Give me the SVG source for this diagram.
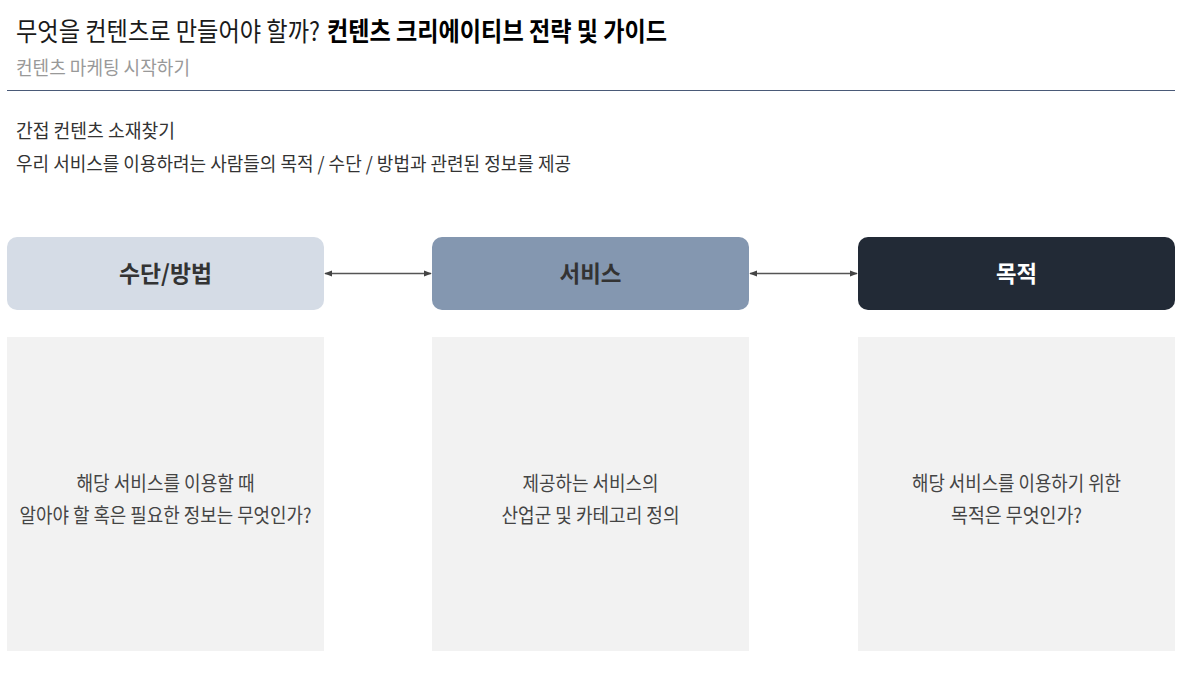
<svg xmlns="http://www.w3.org/2000/svg" width="1204" height="691" viewBox="0 0 1204 691">
<defs>
<style>
text{font-family:"Noto Sans CJK KR","Noto Sans",sans-serif;}
.t1{font-size:26px;fill:#1a1a1a;}
.t1b{font-size:26px;font-weight:700;fill:#000;}
.sub{font-size:19px;fill:#999;}
.body{font-size:19px;fill:#333;}
.lbl{font-size:23px;font-weight:700;text-anchor:middle;}
.pt{font-size:20px;fill:#444;text-anchor:middle;}
.panel{fill:#f2f2f2;}
.conn{stroke:#555;stroke-width:1.4;fill:none;marker-start:url(#ah);marker-end:url(#ah);}
</style>
<marker id="ah" viewBox="0 0 10 10" refX="9" refY="5" markerWidth="8" markerHeight="8" markerUnits="userSpaceOnUse" orient="auto-start-reverse">
<path d="M0,1 L10,5 L0,9 z" fill="#444"/>
</marker>
</defs>
<rect width="1204" height="691" fill="#fff"/>
<g id="header">
<text x="16" y="41" class="t1" textLength="304" lengthAdjust="spacingAndGlyphs">무엇을 컨텐츠로 만들어야 할까?</text>
<text x="327" y="41" class="t1b" textLength="340" lengthAdjust="spacingAndGlyphs">컨텐츠 크리에이티브 전략 및 가이드</text>
<text x="16" y="75" class="sub" textLength="174" lengthAdjust="spacingAndGlyphs">컨텐츠 마케팅 시작하기</text>
<line x1="7" y1="90.5" x2="1175" y2="90.5" stroke="#4a5a78" stroke-width="1.2"/>
<text x="16" y="138" class="body" textLength="159" lengthAdjust="spacingAndGlyphs">간접 컨텐츠 소재찾기</text>
<text x="16" y="171" class="body" textLength="555" lengthAdjust="spacingAndGlyphs">우리 서비스를 이용하려는 사람들의 목적 / 수단 / 방법과 관련된 정보를 제공</text>
</g>
<g id="connectors">
<line class="conn" x1="325" y1="273.5" x2="431" y2="273.5"/>
<line class="conn" x1="750" y1="273.5" x2="857" y2="273.5"/>
</g>
<g id="node-means">
<rect x="7" y="237" width="317" height="73" rx="10" fill="#d5dce6"/>
<text x="165.5" y="282" class="lbl" fill="#333" textLength="93" lengthAdjust="spacingAndGlyphs">수단/방법</text>
</g>
<g id="node-service">
<rect x="432" y="237" width="317" height="73" rx="10" fill="#8497b0"/>
<text x="590.5" y="282" class="lbl" fill="#333" textLength="62" lengthAdjust="spacingAndGlyphs">서비스</text>
</g>
<g id="node-purpose">
<rect x="858" y="237" width="317" height="73" rx="10" fill="#222a36"/>
<text x="1016.5" y="282" class="lbl" fill="#fff" textLength="41" lengthAdjust="spacingAndGlyphs">목적</text>
</g>
<g id="panel-means">
<rect class="panel" x="7" y="337" width="317" height="314"/>
<text x="165.5" y="491" class="pt" textLength="178" lengthAdjust="spacingAndGlyphs">해당 서비스를 이용할 때</text>
<text x="165.5" y="523" class="pt" textLength="292" lengthAdjust="spacingAndGlyphs">알아야 할 혹은 필요한 정보는 무엇인가?</text>
</g>
<g id="panel-service">
<rect class="panel" x="432" y="337" width="317" height="314"/>
<text x="590.5" y="491" class="pt" textLength="136" lengthAdjust="spacingAndGlyphs">제공하는 서비스의</text>
<text x="590.5" y="523" class="pt" textLength="178" lengthAdjust="spacingAndGlyphs">산업군 및 카테고리 정의</text>
</g>
<g id="panel-purpose">
<rect class="panel" x="858" y="337" width="317" height="314"/>
<text x="1016.5" y="491" class="pt" textLength="209" lengthAdjust="spacingAndGlyphs">해당 서비스를 이용하기 위한</text>
<text x="1016.5" y="523" class="pt" textLength="131" lengthAdjust="spacingAndGlyphs">목적은 무엇인가?</text>
</g>
</svg>
